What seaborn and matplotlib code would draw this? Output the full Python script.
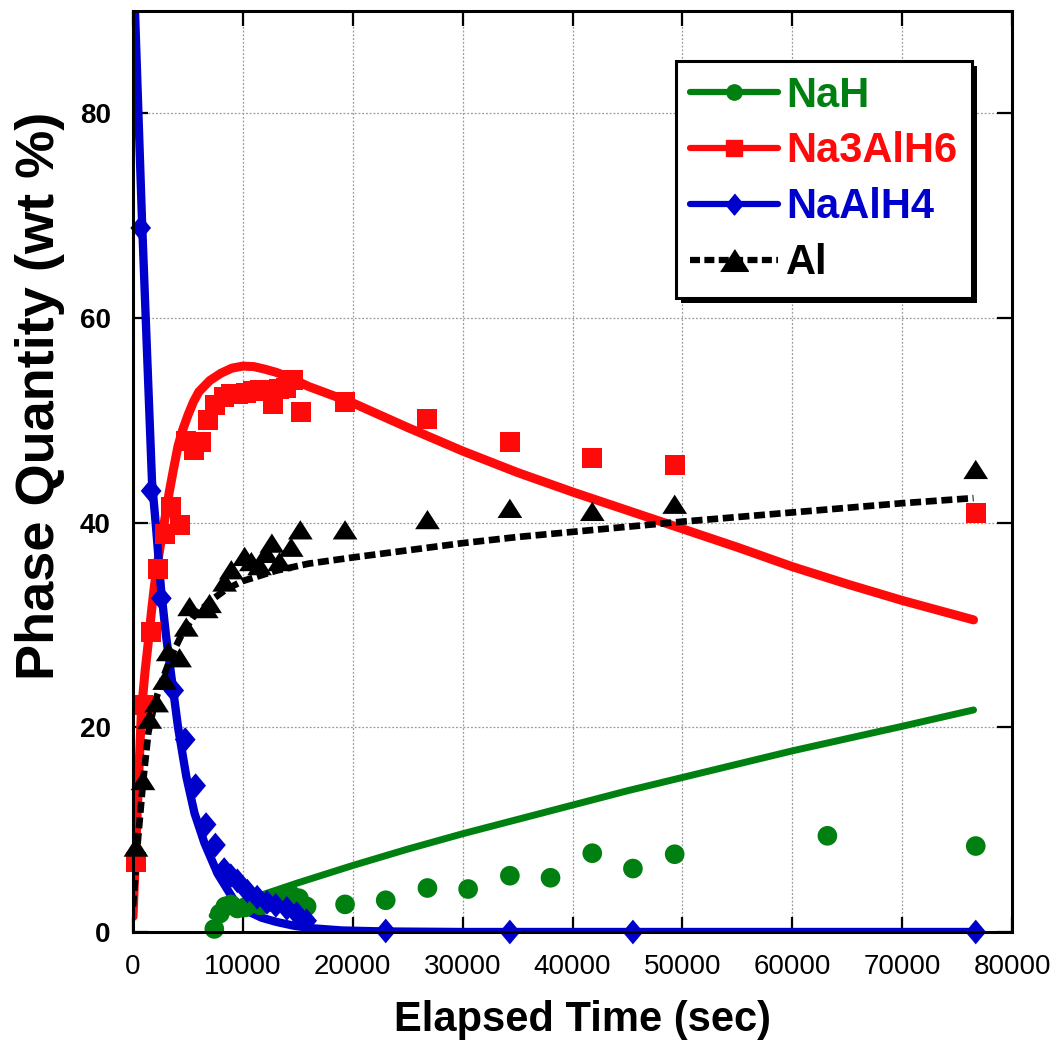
import matplotlib
matplotlib.use("Agg")
import matplotlib.pyplot as plt
import seaborn as sns
from matplotlib.lines import Line2D
from matplotlib.patches import Rectangle

# ---- measured phase fractions (wt %) versus elapsed time (s) ----
nah_t = [7400, 7900, 8400, 8900, 9500, 10200, 10900, 11600, 12300, 13000, 13700,
         14400, 15100, 15800, 19300, 23000, 26800, 30500, 34300, 38000, 41800,
         45500, 49300, 63200, 76700]
nah_w = [0.3, 1.8, 2.5, 2.7, 2.3, 2.4, 2.8, 2.6, 2.9, 3.1, 3.0,
         3.6, 3.3, 2.5, 2.7, 3.1, 4.3, 4.2, 5.5, 5.3, 7.7,
         6.2, 7.6, 9.4, 8.4]

na3_t = [300, 900, 1600, 2250, 2880, 3490, 4250, 4850, 5550, 6160, 6830, 7430,
         8270, 8900, 9600, 10250, 10900, 11550, 12160, 12700, 13300, 13900,
         14600, 15250, 19300, 26800, 34300, 41800, 49300, 76700]
na3_w = [6.8, 22.2, 29.3, 35.5, 38.9, 41.5, 39.8, 48.0, 47.1, 47.9, 50.0, 51.5,
         52.3, 52.6, 52.6, 52.7, 52.9, 53.0, 52.9, 51.6, 53.1, 53.2,
         53.9, 50.8, 51.8, 50.1, 47.9, 46.35, 45.6, 40.9]

naal_t = [700, 1650, 2580, 3700, 4750, 5700, 6650, 7500, 8300, 8900, 9500, 10400,
          11300, 12200, 13000, 14000, 14900, 15800, 23000, 34300, 45500, 76700]
naal_w = [68.8, 43.1, 32.6, 23.6, 18.8, 14.3, 10.5, 8.5, 6.1, 5.5, 5.0, 4.0,
          3.4, 2.9, 2.6, 2.3, 1.8, 1.1, 0.1, 0.0, 0.0, 0.0]

al_t = [270, 910, 1520, 2150, 2880, 3200, 4240, 4850, 5150, 6670, 6970, 8340,
        8950, 10160, 10770, 11520, 12130, 12640, 13340, 14400, 15230, 19300,
        26800, 34300, 41800, 49300, 76700]
al_w = [8.3, 14.8, 20.8, 22.4, 24.6, 27.4, 26.8, 29.8, 31.8, 31.6, 32.1, 34.2,
        35.4, 36.7, 36.2, 35.8, 37.0, 38.0, 36.2, 37.6, 39.3, 39.3,
        40.3, 41.4, 41.1, 41.8, 45.2]

# ---- model curves ----
nah_fit_t = [7200, 10000, 15000, 20000, 25000, 30000, 35000, 40000, 45000,
             50000, 55000, 60000, 65000, 70000, 76500]
nah_fit_w = [1.6, 3.0, 4.8, 6.5, 8.1, 9.6, 11.0, 12.4, 13.8,
             15.1, 16.4, 17.7, 18.9, 20.1, 21.7]

na3_fit_t = [0, 380, 760, 1100, 1360, 1700, 1970, 2300, 2600, 3000, 3300, 3700,
             4100, 4500, 5000, 5500, 6000, 7000, 8000, 9000, 10000, 11000, 12000,
             13000, 14000, 15000, 16000, 18000, 20000, 25000, 30000, 35000, 40000,
             45000, 50000, 55000, 60000, 65000, 70000, 76500]
na3_fit_w = [1.5, 11.5, 21.5, 25.5, 28.0, 31.5, 34.0, 36.5, 38.5, 41.0, 43.0, 45.3,
             47.5, 49.0, 50.5, 51.8, 52.8, 53.9, 54.6, 55.1, 55.3, 55.25, 55.0,
             54.7, 54.3, 53.8, 53.3, 52.5, 51.7, 49.3, 47.0, 44.9, 43.0,
             41.2, 39.4, 37.6, 35.7, 34.0, 32.4, 30.5]

naal_fit_t = [0, 180, 820, 1300, 1730, 2100, 2550, 3000, 3550, 4100, 4850, 5600,
              6500, 7700, 9200, 10500, 11700, 13000, 14700, 16500, 19000, 23000,
              30000, 76500]
naal_fit_w = [96, 90, 69.5, 56, 44, 39.5, 33.5, 29, 24.5, 20, 15.2, 11.6,
              8.7, 5.7, 3.1, 2.0, 1.4, 1.0, 0.6, 0.35, 0.15, 0.05,
              0.0, 0.0]

al_fit_t = [0, 450, 900, 1400, 2000, 2800, 3500, 4400, 5500, 7100, 8500, 10000,
            13000, 16000, 20000, 25000, 30000, 35000, 40000, 45000, 50000, 55000,
            60000, 65000, 70000, 76500]
al_fit_w = [2.5, 9.0, 14.5, 19.5, 22.5, 25.0, 27.0, 29.0, 30.8, 32.4, 33.5, 34.3,
            35.3, 36.0, 36.6, 37.3, 38.0, 38.6, 39.1, 39.6, 40.1, 40.55,
            41.0, 41.45, 41.9, 42.4]

x_ticks = [0, 10000, 20000, 30000, 40000, 50000, 60000, 70000, 80000]
y_ticks = [0, 20, 40, 60, 80]

series_names = ["NaH", "Na3AlH6", "NaAlH4", "Al"]
GREEN, RED, BLUE, BLACK = "#008010", "#ff0a0a", "#0000cc", "#000000"

# marker shapes: flattened triangle and tall diamond
TRI = [(-1, -0.78), (1, -0.78), (0, 0.78)]
DIA = [(0, 1), (0.84, 0), (0, -1), (-0.84, 0)]

sns.set_style("ticks")
plt.rcParams["font.family"] = ["Liberation Sans", "DejaVu Sans"]
plt.rcParams.update({"text.color": "black", "axes.labelcolor": "black",
                     "xtick.color": "black", "ytick.color": "black",
                     "xtick.labelcolor": "black", "ytick.labelcolor": "black"})

fig = plt.figure(figsize=(10.63, 10.43), dpi=100)
ax = fig.add_axes([133 / 1063, 1 - 932 / 1043, 879 / 1063, 921 / 1043])

# fitted curves
sns.lineplot(x=nah_fit_t, y=nah_fit_w, ax=ax, color=GREEN, linewidth=5.0,
             sort=False, estimator=None, zorder=3)
sns.lineplot(x=na3_fit_t, y=na3_fit_w, ax=ax, color=RED, linewidth=6.5,
             sort=False, estimator=None, zorder=3.1)
sns.lineplot(x=naal_fit_t, y=naal_fit_w, ax=ax, color=BLUE, linewidth=6.0,
             sort=False, estimator=None, zorder=3.2, clip_on=False)
sns.lineplot(x=al_fit_t, y=al_fit_w, ax=ax, color=BLACK, linewidth=4.8,
             linestyle=(0, (1.65, 0.7)), sort=False, estimator=None, zorder=3.3)
# keep the steep NaAlH4 curve inside the top of the frame
ax.lines[2].set_clip_on(True)

# measured points
sns.scatterplot(x=nah_t, y=nah_w, ax=ax, marker="o", s=200, color=GREEN,
                edgecolor="none", linewidth=0, zorder=4, clip_on=False)
sns.scatterplot(x=na3_t, y=na3_w, ax=ax, marker="s", s=207, color=RED,
                edgecolor="none", linewidth=0, zorder=4.1, clip_on=False)
sns.scatterplot(x=naal_t, y=naal_w, ax=ax, marker=DIA, s=317, color=BLUE,
                edgecolor="none", linewidth=0, zorder=4.2, clip_on=False)
sns.scatterplot(x=al_t, y=al_w, ax=ax, marker=TRI, s=316, color=BLACK,
                edgecolor="none", linewidth=0, zorder=4.3, clip_on=False)

ax.set_xlim(0, 80000)
ax.set_ylim(0, 90)
ax.set_xticks(x_ticks)
ax.set_yticks(y_ticks)
ax.set_xticklabels([str(v) for v in x_ticks], fontsize=20, color="black")
ax.set_yticklabels([str(v) for v in y_ticks], fontsize=20, fontweight="bold",
                   color="black")
ax.grid(True, color="#9a9a9a", linestyle=(0, (1.5, 1.5)), linewidth=0.9)
ax.set_axisbelow(True)
ax.tick_params(axis="both", which="both", direction="in", length=11, width=1.6,
               top=True, right=True, colors="black")
ax.tick_params(axis="x", pad=16)
ax.tick_params(axis="y", pad=16)
for sp in ax.spines.values():
    sp.set_visible(True)
    sp.set_linewidth(2.2)
    sp.set_color("black")
    sp.set_zorder(5)

ax.set_xlabel("Elapsed Time (sec)", fontsize=30, fontweight="bold", color="black")
ax.xaxis.set_label_coords(0.511, -0.0955)
ax.xaxis.label.set_va("center")
ax.set_ylabel("Phase Quantity (wt %)", fontsize=39, fontweight="bold",
              color="black")
ax.yaxis.set_label_coords(-0.106, 0.582)
ax.yaxis.label.set_va("center")

# legend with line + marker handles
handles = [
    Line2D([], [], color=GREEN, lw=4.5, marker="o", markersize=11),
    Line2D([], [], color=RED, lw=4.5, marker="s", markersize=11),
    Line2D([], [], color=BLUE, lw=4.5, marker=DIA, markersize=15),
    Line2D([], [], color=BLACK, lw=4.5, linestyle=(0, (1.6, 0.7)),
           marker=TRI, markersize=20),
]
leg = ax.legend(handles, series_names, loc="upper right",
                bbox_to_anchor=(972 / 1063, 1 - 61 / 1043),
                bbox_transform=fig.transFigure, borderaxespad=0,
                fancybox=False, frameon=True,
                prop={"weight": "bold", "size": 30},
                handlelength=2.1, handletextpad=0.2, borderpad=0.35,
                labelspacing=0.38, numpoints=1)
leg.get_frame().set_edgecolor("black")
leg.get_frame().set_linewidth(2.2)
leg.get_frame().set_facecolor("white")
leg.get_frame().set_alpha(1)
leg.set_zorder(6)
for txt, c in zip(leg.get_texts(), [GREEN, RED, BLUE, BLACK]):
    txt.set_color(c)

# offset drop shadow behind the legend box
fig.canvas.draw()
bb = leg.get_frame().get_window_extent(fig.canvas.get_renderer())
bb = bb.transformed(ax.transAxes.inverted())
ax.add_patch(Rectangle((bb.x0 + 5 / 879, bb.y0 - 5 / 921), bb.width, bb.height,
                       transform=ax.transAxes, facecolor="black", edgecolor="none",
                       zorder=5.9, clip_on=False))

fig.savefig("out.png", dpi=100, facecolor="white")
